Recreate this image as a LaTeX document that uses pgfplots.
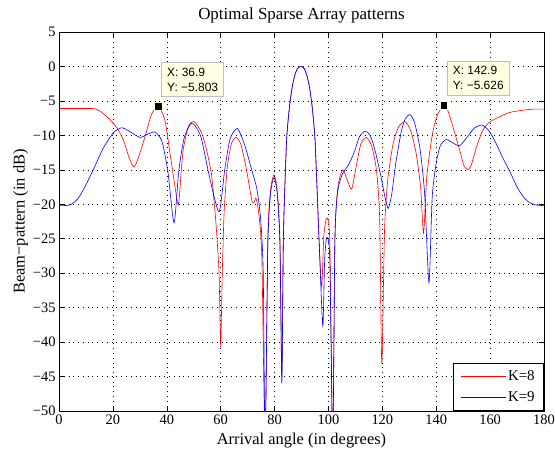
\documentclass[border=0pt]{standalone}
\usepackage{pgfplots}
\pgfplotsset{compat=1.18}
\usepackage{fontspec}
\setmainfont{Liberation Serif}
\newfontfamily\tipfont{Liberation Sans}
\definecolor{tipbg}{RGB}{255,255,225}
\begin{document}
\begin{tikzpicture}
\begin{axis}[
  name=ax,
  scale only axis,
  width=485bp, height=379bp,
  xmin=0, xmax=180, ymin=-50, ymax=5,
  xtick={0,20,...,180},
  ytick={-50,-45,...,5},
  yticklabels={−50,−45,−40,−35,−30,−25,−20,−15,−10,−5,0,5},
  tick align=inside,
  tick style={black, line width=0.5pt},
  major tick length=5bp,
  axis line style={black, line width=0.6pt},
  grid=major,
  major grid style={black, line width=0.5pt, dash pattern=on 0.6pt off 4.2pt},
  /pgf/number format/assume math mode=true,
  tick label style={font=\fontsize{14.5}{16}\selectfont},
  label style={font=\fontsize{16.5}{18}\selectfont},
  title style={font=\fontsize{17}{19}\selectfont, yshift=-1bp},
  title={Optimal Sparse Array patterns},
  xlabel={Arrival angle (in degrees)},
  ylabel={Beam−pattern (in dB)},
  xlabel style={yshift=-2bp},
  ylabel style={yshift=-2bp},
  legend style={at={(1,0)}, anchor=south east, draw=black, line width=0.6pt,
    font=\fontsize{15}{17}\selectfont, row sep=6bp, inner xsep=7bp, inner ysep=5.5bp},
  legend cell align=right,
  legend image code/.code={\draw[#1, line width=0.6pt] (0bp,0bp) -- (45bp,0bp);},
  clip=true,
]
\addplot[color=red, draw=red, line width=0.6pt, smooth, tension=0.4] coordinates {
(0,-6.1)(5,-6.1)(10,-6.1)(13.4,-6.15)(16,-6.7)(19.6,-8.0)(22,-9.2)(24,-10.8)(26,-13.2)(27.8,-14.6)(29.5,-13.2)(31.9,-10.2)(34.4,-6.9)(36.9,-5.8)(39.3,-7.8)(41.2,-12.6)(42.8,-16.8)(44.3,-20.1)(45.3,-15.5)(46.1,-12.1)(48,-8.7)(50.2,-8.0)(53,-9.7)(55,-12.5)(56.7,-16)(58.3,-23)(59.4,-30)(60,-40.5)(60.6,-30)(61.3,-21)(62.5,-14.5)(64,-11.2)(65.7,-10.3)(67.5,-11.3)(69.5,-14.8)(71.6,-19.5)(72.4,-19.7)(73.1,-19.1)(74.2,-21.5)(75.3,-28)(76.5,-55)(77.5,-25)(78.5,-18)(79.8,-15.7)(81,-18)(82,-25)(82.7,-45)(83.2,-27)(83.6,-20)(84.5,-10.5)(85.5,-6)(86.5,-3.1)(87.5,-1.3)(88.5,-0.3)(89.8,0)(91,-0.3)(92,-1.3)(93,-3.1)(94,-6)(95,-10.5)(95.9,-19)(96.6,-26)(97.5,-32)(98.3,-24.5)(99.4,-22)(100.5,-25.5)(101.6,-55)(102.4,-25)(103.5,-17.5)(105.3,-15)(107,-16.5)(108.6,-17.8)(110.3,-14.5)(112,-11.3)(114,-10.3)(116,-11.5)(117.8,-15)(119,-22)(119.8,-43.2)(120.8,-24)(122,-16.5)(124,-11.2)(126,-8.8)(128.4,-8.0)(130.5,-9.3)(132.5,-12.5)(134.2,-17.5)(135.3,-24.2)(136.5,-16)(138.5,-10)(140.5,-7)(142.9,-5.6)(144.5,-6.6)(146.4,-9)(148.8,-12.3)(150.3,-14.4)(151.7,-15)(153,-14.3)(155,-11.6)(157,-9.5)(158.5,-8.6)(160,-8.0)(163,-7.4)(167,-6.7)(172,-6.35)(176,-6.2)(180,-6.2)
};
\addlegendentry{K=8}
\addplot[color=blue, draw=blue, line width=0.6pt, smooth, tension=0.4] coordinates {
(0,-20.2)(4,-20.1)(7,-19.2)(9.7,-17.4)(12.7,-15)(16.5,-11.8)(20.2,-9.6)(23.3,-8.9)(26.5,-9.5)(30.1,-10.3)(33,-9.8)(35.6,-9.5)(37.5,-10.3)(38.7,-11.6)(40.5,-15.5)(42.7,-22.7)(44.5,-15)(46.5,-10.3)(49.2,-8.2)(51.5,-9.2)(53,-10.7)(56,-16.3)(59.4,-21.1)(61.5,-15)(63.5,-10.5)(66.2,-9.0)(69,-11.5)(71.5,-15)(73.4,-17.7)(74.8,-22)(75.8,-30)(76.5,-55)(77.5,-26)(78.5,-18.5)(79.8,-16.1)(81,-18.5)(82,-26)(82.7,-46)(83.2,-27)(83.6,-20)(84.5,-10.5)(85.5,-6)(86.5,-3.1)(87.5,-1.3)(88.5,-0.3)(89.8,0)(91,-0.3)(92,-1.3)(93,-3.1)(94,-6)(95,-10.5)(95.9,-19)(96.6,-26)(97.9,-37.7)(98.6,-28)(99.4,-24.8)(100.5,-28)(101.6,-55)(102.4,-25)(103.5,-18)(105.3,-15.5)(107.3,-14.4)(109.5,-12.5)(111.5,-10.2)(113.6,-9.4)(115.5,-10)(117.5,-12.5)(119.5,-16)(121,-19)(122.2,-20.6)(123.5,-18.5)(125,-14)(127,-9.5)(128.5,-7.6)(130.3,-7.0)(132,-8.2)(134,-12)(135.7,-18.5)(137.3,-31.4)(138.5,-19)(140,-14)(141.5,-11.5)(143.7,-10.6)(146.2,-11.1)(148.6,-11.5)(151,-10.5)(154,-9.0)(156.9,-8.5)(159.5,-9.3)(162,-11)(165,-13.5)(167.4,-15.3)(170,-17.5)(172.5,-19)(174.8,-19.8)(177,-20.1)(180,-20.2)
};
\addlegendentry{K=9}
\addplot[only marks, mark=square*, mark size=4bp, mark options={fill=black, draw=tipbg, line width=1.2pt}, forget plot]
  coordinates {(36.9,-5.803)}
  node[anchor=south west, xshift=3bp, yshift=10bp, fill=tipbg, draw=black!25, line width=0.6pt, align=left, inner xsep=5.5bp, inner ysep=5bp, font=\tipfont\fontsize{12}{15}\selectfont] {X: 36.9\\Y: −5.803};
\addplot[only marks, mark=square*, mark size=4bp, mark options={fill=black, draw=tipbg, line width=1.2pt}, forget plot]
  coordinates {(142.9,-5.626)}
  node[anchor=south west, xshift=3bp, yshift=10bp, fill=tipbg, draw=black!25, line width=0.6pt, align=left, inner xsep=5.5bp, inner ysep=5bp, font=\tipfont\fontsize{12}{15}\selectfont] {X: 142.9\\Y: −5.626};
\end{axis}
\pgfresetboundingbox
\path (-59bp,-41bp) rectangle (496bp,411bp);
\end{tikzpicture}
\end{document}
